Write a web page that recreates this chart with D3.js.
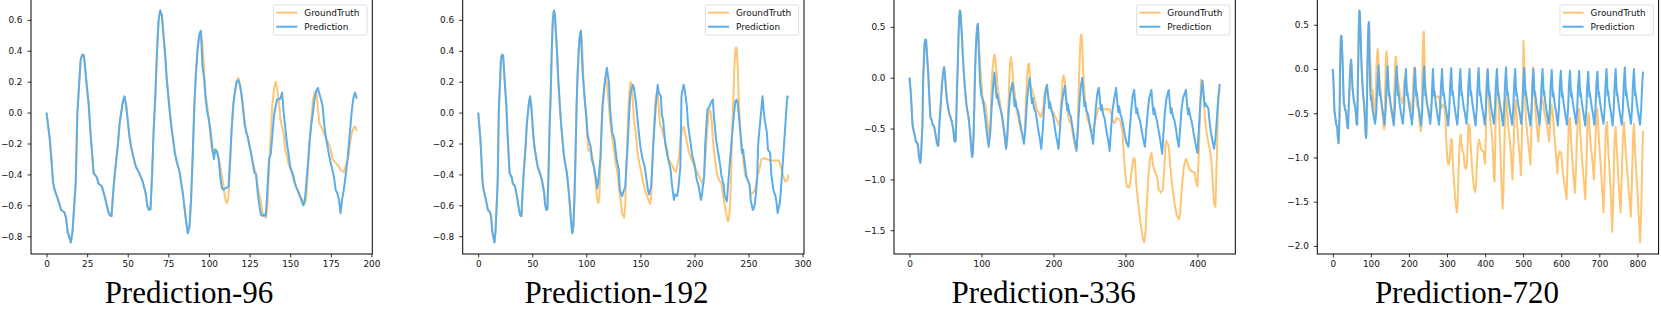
<!DOCTYPE html>
<html>
<head>
<meta charset="utf-8">
<title>Prediction horizons</title>
<script src="https://cdn.jsdelivr.net/npm/d3@7"></script>
<style>
  body { margin: 0; background: #fff; }
  svg { display: block; }
  .tick text { font-family: "DejaVu Sans", sans-serif; font-size: 8.9px; fill: #111; }
  .tick line { stroke: #000; stroke-width: 0.8; }
  .legend text { font-family: "DejaVu Sans", sans-serif; font-size: 8.9px; fill: #111; }
  .title { font-family: "Liberation Serif", "Times New Roman", serif; font-size: 31px; fill: #000; }
</style>
</head>
<body>
<svg width="1661" height="310"></svg>
<script>
// [step, value] pairs
var lookback = [[0,0],[2,-0.17],[3,-0.3],[4,-0.45],[5,-0.5],[7,-0.56],[9,-0.63],[11,-0.645],[12,-0.68],[13,-0.77],[15,-0.84],[16,-0.77],[18,-0.45],[19,0.0],[21,0.34],[22,0.375],[23,0.37],[25,0.15],[26,0.05],[27,-0.12],[29,-0.39],[31,-0.42],[32,-0.46],[34,-0.475],[36,-0.55],[38,-0.64],[39,-0.665],[40,-0.67],[41,-0.52],[42,-0.4],[44,-0.2],[45,-0.07],[47,0.07],[48,0.105],[49,0.05],[51,-0.15],[52,-0.22],[54,-0.31],[55,-0.35],[57,-0.39],[59,-0.44],[61,-0.52],[62,-0.6],[63,-0.63],[64,-0.625],[65,-0.4],[66,-0.1],[67,0.11],[68,0.39],[69,0.6],[70,0.66],[71,0.63],[72,0.5],[73,0.38],[74,0.22],[76,-0.01],[77,-0.1],[79,-0.26],[80,-0.31],[82,-0.39],[84,-0.53],[85,-0.62],[86,-0.71],[87,-0.78],[88,-0.74],[89,-0.56],[90,-0.28],[91,0.05],[92,0.26],[93,0.41],[94,0.5],[95,0.53]];

var groundTruth = [[96,0.45],[97,0.27],[98,0.12],[100,-0.05],[101,-0.17],[102,-0.25],[104,-0.235],[105,-0.26],[107,-0.35],[109,-0.48],[110,-0.56],[111,-0.585],[112,-0.55],[113,-0.35],[114,-0.1],[115,0.06],[117,0.19],[118,0.225],[119,0.19],[121,0.04],[122,-0.06],[124,-0.175],[125,-0.21],[127,-0.32],[129,-0.4],[130,-0.48],[132,-0.58],[133,-0.65],[135,-0.68],[136,-0.6],[137,-0.35],[138,-0.15],[139,0.05],[140,0.15],[141,0.2],[142,0.15],[143,0.085],[144,-0.045],[146,-0.14],[147,-0.24],[149,-0.33],[151,-0.39],[152,-0.435],[154,-0.49],[155,-0.52],[157,-0.555],[159,-0.59],[160,-0.54],[161,-0.35],[162,-0.18],[163,-0.05],[164,0.08],[165,0.13],[166,0.14],[167,0.04],[168,-0.07],[170,-0.11],[171,-0.14],[173,-0.185],[175,-0.24],[176,-0.3],[178,-0.325],[180,-0.35],[181,-0.37],[183,-0.385],[184,-0.35],[186,-0.28],[187,-0.18],[188,-0.13],[189,-0.1],[190,-0.09],[191,-0.12],
  [192,-0.15],[193,-0.19],[195,-0.26],[197,-0.3],[200,-0.35],[203,-0.39],[206,-0.44],[208,-0.465],[209,-0.4],[211,-0.2],[213,0.0],[214,0.02],[215,0.0],[216,-0.05],[217,-0.17],[219,-0.3],[221,-0.4],[223,-0.44],[225,-0.455],[227,-0.56],[229,-0.64],[231,-0.705],[232,-0.68],[233,-0.6],[234,-0.4],[235,-0.1],[236,0.1],[237,0.3],[238,0.42],[239,0.42],[240,0.3],[241,0.1],[242,-0.05],[243,-0.15],[245,-0.3],[247,-0.41],[249,-0.435],[251,-0.47],[252,-0.53],[254,-0.52],[256,-0.5],[258,-0.42],[260,-0.37],[262,-0.3],[265,-0.295],[268,-0.305],[271,-0.31],[275,-0.31],[278,-0.31],[280,-0.35],[282,-0.41],[284,-0.445],[286,-0.435],[287,-0.4],
  [289,-0.4],[293,-0.42],[296,-0.55],[298,-0.8],[300,-0.97],[302,-1.07],[305,-1.08],[307,-1.02],[309,-0.9],[311,-0.79],[313,-0.8],[315,-1.05],[318,-1.25],[321,-1.43],[324,-1.57],[326,-1.62],[328,-1.5],[330,-1.2],[332,-0.95],[334,-0.8],[336,-0.74],[338,-0.85],[341,-0.93],[344,-0.97],[346,-1.1],[349,-1.13],[352,-1.1],[354,-0.88],[356,-0.62],[358,-0.64],[360,-0.67],[362,-0.85],[365,-1.07],[368,-1.23],[371,-1.35],[374,-1.39],[376,-1.33],[378,-1.1],[381,-0.88],[384,-0.8],[386,-0.83],[389,-0.9],[392,-0.92],[396,-0.93],[398,-1.02],[400,-1.07],[402,-0.72],[404,-0.2],[405,-0.02],[407,-0.06],[409,-0.22],[411,-0.45],[414,-0.6],[417,-0.7],[419,-0.8],[421,-1.0],[423,-1.24],[425,-1.27],[427,-0.75],[429,-0.22],[431,-0.11],
  [432,-0.1],[436,-0.45],[440,-0.9],[443,-1.3],[446,-1.58],[448,-1.4],[451,-0.8],[454,-0.3],[457,-0.4],[462,-0.7],[466,-0.85],[470,-1.1],[472,-1.25],[474,-1.0],[477,-0.55],[480,-0.35],[484,-0.6],[488,-0.85],[492,-1.05],[494,-1.2],[496,-0.9],[499,-0.2],[501,0.32],[503,0.0],[507,-0.55],[511,-0.75],[515,-0.9],[519,-1.08],[521,-0.8],[524,-0.2],[526,0.02],[528,-0.2],[532,-0.45],[536,-0.65],[540,-0.82],[543,-0.6],[547,-0.3],[551,-0.35],[556,-0.5],[561,-0.6],[565,-0.7],[568,-0.82],[571,-0.6],[574,-0.4],[577,-0.45],[582,-0.75],[586,-0.95],[590,-1.18],[592,-1.0],[596,-0.93],[600,-0.95],[605,-1.2],[610,-1.35],[614,-1.47],[617,-1.0],[620,-0.6],[623,-0.55],[627,-0.9],[632,-1.2],[636,-1.4],[639,-1.1],[643,-0.6],[647,-0.45],[651,-0.8],[656,-1.1],[660,-1.3],[663,-1.47],[666,-1.1],[669,-0.6],[672,-0.5],[676,-0.8],[681,-1.0],[686,-1.25],[689,-0.9],[692,-0.55],[695,-0.45],[699,-0.8],[704,-1.1],[708,-1.4],[711,-1.62],[714,-1.2],[717,-0.7],[720,-0.6],[724,-0.95],[729,-1.3],[732,-1.6],[734,-1.84],[737,-1.4],[740,-0.8],[743,-0.65],[747,-1.0],[751,-1.3],[754,-1.5],[756,-1.62],[759,-1.2],[762,-0.75],[765,-0.6],[769,-0.9],[774,-1.2],[779,-1.45],[783,-1.67],[786,-1.2],[789,-0.75],[791,-0.62],[795,-1.0],[799,-1.3],[803,-1.6],[807,-1.96],[810,-1.6],[813,-1.0],[815,-0.7]];

var pred96 = [[96,0.3],[97,0.22],[98,0.08],[99,0.0],[100,-0.05],[101,-0.12],[102,-0.22],[103,-0.3],[104,-0.24],[105,-0.25],[106,-0.3],[107,-0.42],[108,-0.49],[109,-0.5],[110,-0.49],[112,-0.48],[113,-0.3],[114,-0.1],[115,0.05],[116,0.14],[117,0.2],[118,0.21],[119,0.18],[120,0.12],[121,0.02],[122,-0.08],[123,-0.13],[124,-0.16],[125,-0.22],[126,-0.27],[127,-0.33],[128,-0.39],[129,-0.4],[130,-0.52],[131,-0.6],[132,-0.66],[133,-0.67],[134,-0.66],[135,-0.67],[136,-0.49],[137,-0.3],[138,-0.27],[139,-0.15],[140,-0.02],[141,0.04],[142,0.085],[143,0.09],[144,0.09],[145,0.13],[146,0.0],[147,-0.1],[148,-0.2],[149,-0.27],[150,-0.35],[151,-0.38],[152,-0.41],[153,-0.46],[154,-0.49],[155,-0.51],[156,-0.54],[157,-0.57],[158,-0.6],[159,-0.57],[160,-0.45],[161,-0.32],[162,-0.18],[163,-0.08],[164,0.0],[165,0.09],[166,0.14],[167,0.16],[168,0.12],[169,0.085],[170,0.04],[171,-0.08],[172,-0.16],[173,-0.22],[174,-0.28],[175,-0.33],[176,-0.37],[177,-0.42],[178,-0.5],[179,-0.52],[180,-0.56],[181,-0.65],[182,-0.56],[183,-0.5],[184,-0.42],[185,-0.33],[186,-0.22],[187,-0.1],[188,0.02],[189,0.1],[190,0.13],[191,0.09]];

var pred192 = [[96,0.35],[97,0.22],[99,0.05],[100,-0.02],[101,-0.13],[102,-0.17],[104,-0.22],[105,-0.3],[107,-0.35],[109,-0.43],[110,-0.49],[111,-0.45],[113,-0.3],[115,0.04],[117,0.19],[119,0.29],[121,0.19],[122,0.02],[124,-0.13],[126,-0.175],[128,-0.3],[130,-0.37],[131,-0.5],[133,-0.54],[134,-0.52],[136,-0.48],[138,-0.24],[140,0.04],[141,0.13],[143,0.18],[144,0.16],[146,0.06],[148,-0.09],[150,-0.22],[152,-0.3],[154,-0.35],[157,-0.5],[158,-0.53],[160,-0.48],[162,-0.2],[164,0.02],[166,0.18],[167,0.13],[169,0.105],[170,-0.02],[171,-0.045],[173,-0.2],[175,-0.28],[178,-0.37],[179,-0.455],[181,-0.565],[182,-0.53],[184,-0.54],[185,-0.5],[187,-0.35],[188,0.105],[190,0.18],[191,0.15],[193,0.04],[194,-0.07],[196,-0.175],[198,-0.28],[200,-0.33],[202,-0.43],[204,-0.48],[206,-0.565],[207,-0.53],[209,-0.41],[210,-0.2],[212,0.02],[214,0.04],[215,0.06],[217,0.085],[218,-0.02],[220,-0.175],[222,-0.26],[224,-0.35],[225,-0.41],[227,-0.465],[228,-0.54],[230,-0.575],[231,-0.48],[233,-0.3],[235,-0.13],[237,0.02],[238,0.075],[239,0.085],[240,0.06],[242,-0.09],[244,-0.26],[245,-0.24],[246,-0.3],[248,-0.41],[249,-0.43],[251,-0.465],[252,-0.565],[254,-0.63],[255,-0.62],[256,-0.585],[258,-0.43],[259,-0.2],[261,-0.045],[263,0.105],[264,0.02],[265,-0.045],[267,-0.13],[268,-0.24],[270,-0.26],[271,-0.39],[273,-0.5],[275,-0.54],[276,-0.585],[277,-0.65],[279,-0.585],[280,-0.5],[282,-0.3],[284,-0.09],[285,0.02],[286,0.105],[287,0.095]];

var pred336 = [[96,0.3],[98,-0.05],[100,-0.18],[102,-0.22],[104,-0.33],[106,-0.45],[108,-0.58],[110,-0.68],[112,-0.55],[114,-0.3],[116,-0.1],[118,0.05],
  [120,-0.12],[121,-0.2],[122,-0.16],[124,-0.25],[126,-0.3],[128,-0.36],[130,-0.45],[132,-0.55],[134,-0.7],[136,-0.55],[138,-0.3],[140,-0.15],[143,-0.05],
  [145,-0.2],[146,-0.28],[147,-0.22],[149,-0.3],[151,-0.33],[153,-0.42],[155,-0.5],[157,-0.58],[159,-0.65],[161,-0.5],[163,-0.25],[165,-0.1],[167,0.0],
  [169,-0.18],[170,-0.25],[171,-0.2],[173,-0.3],[175,-0.33],[177,-0.42],[179,-0.52],[181,-0.6],[183,-0.7],[185,-0.52],[187,-0.3],[189,-0.15],[191,-0.07],
  [193,-0.22],[194,-0.3],[195,-0.24],[197,-0.32],[199,-0.36],[201,-0.45],[203,-0.55],[205,-0.62],[207,-0.7],[209,-0.5],[211,-0.3],[213,-0.18],[216,-0.08],
  [218,-0.25],[219,-0.32],[220,-0.26],[222,-0.35],[224,-0.38],[226,-0.47],[228,-0.56],[230,-0.64],[232,-0.72],[234,-0.5],[236,-0.25],[238,-0.08],[240,0.0],
  [242,-0.2],[243,-0.28],[244,-0.24],[246,-0.33],[248,-0.36],[250,-0.45],[252,-0.52],[254,-0.6],[255,-0.65],[257,-0.45],[259,-0.28],[261,-0.15],[263,-0.1],
  [265,-0.25],[266,-0.32],[267,-0.27],[269,-0.36],[271,-0.4],[273,-0.5],[275,-0.58],[277,-0.66],[278,-0.72],[280,-0.5],[282,-0.32],[285,-0.18],[287,-0.1],
  [289,-0.27],[290,-0.34],[291,-0.28],[293,-0.36],[295,-0.4],[297,-0.48],[299,-0.56],[301,-0.63],[304,-0.68],[306,-0.5],[308,-0.32],[310,-0.18],[312,-0.12],
  [314,-0.28],[315,-0.35],[316,-0.3],[318,-0.38],[320,-0.42],[322,-0.5],[324,-0.58],[326,-0.65],[327,-0.68],[329,-0.5],[331,-0.33],[333,-0.2],[336,-0.12],
  [338,-0.3],[339,-0.36],[340,-0.3],[342,-0.38],[344,-0.43],[346,-0.52],[348,-0.6],[350,-0.7],[351,-0.75],[353,-0.52],[355,-0.32],[357,-0.2],[360,-0.12],
  [362,-0.28],[363,-0.35],[364,-0.3],[366,-0.38],[368,-0.42],[370,-0.5],[372,-0.6],[374,-0.68],[376,-0.5],[378,-0.3],[380,-0.2],[384,-0.12],
  [386,-0.3],[387,-0.36],[388,-0.3],[390,-0.38],[392,-0.43],[394,-0.52],[396,-0.6],[398,-0.68],[400,-0.74],[402,-0.5],[404,-0.25],[406,-0.08],[407,-0.03],
  [409,-0.2],[410,-0.28],[411,-0.25],[413,-0.28],[415,-0.3],[417,-0.45],[419,-0.55],[421,-0.63],[423,-0.7],[425,-0.6],[427,-0.4],[429,-0.18],[431,-0.06]];

var pred720 = [[96,0.2],[98,-0.2],[100,-0.35],[101,-0.3],[104,-0.45],[108,-0.55],[111,-0.62],[114,-0.5],[117,-0.2],
  [120,0.04],[123,-0.3],[124,-0.25],[128,-0.4],[132,-0.5],[136,-0.63],[139,-0.45],[141,-0.2],
  [144,0.03],[147,-0.3],[148,-0.26],[152,-0.4],[156,-0.5],[160,-0.64],[163,-0.45],[165,-0.2],
  [168,0.03],[171,-0.3],[172,-0.25],[176,-0.41],[180,-0.52],[184,-0.62],[187,-0.45],[189,-0.2],
  [192,0.0],[195,-0.3],[196,-0.26],[200,-0.4],[204,-0.5],[208,-0.63],[211,-0.45],[213,-0.2],
  [216,0.01],[219,-0.3],[220,-0.25],[224,-0.4],[228,-0.52],[232,-0.64],[235,-0.45],[237,-0.2],
  [240,0.03],[243,-0.3],[244,-0.26],[248,-0.4],[252,-0.5],[256,-0.62],[259,-0.45],[261,-0.2],
  [263,0.0],[266,-0.3],[267,-0.25],[271,-0.41],[275,-0.52],[279,-0.63],[282,-0.45],[284,-0.2],
  [287,0.0],[290,-0.3],[291,-0.26],[295,-0.4],[299,-0.5],[303,-0.64],[306,-0.45],[308,-0.2],
  [311,0.01],[314,-0.3],[315,-0.25],[319,-0.4],[323,-0.52],[327,-0.63],[330,-0.45],[332,-0.2],
  [335,0.0],[338,-0.3],[339,-0.26],[343,-0.41],[347,-0.5],[351,-0.62],[354,-0.45],[356,-0.2],
  [359,0.0],[362,-0.3],[363,-0.25],[367,-0.4],[371,-0.52],[375,-0.64],[378,-0.45],[380,-0.2],
  [383,0.01],[386,-0.3],[387,-0.26],[391,-0.4],[395,-0.5],[399,-0.63],[402,-0.45],[404,-0.2],
  [407,0.0],[410,-0.3],[411,-0.25],[415,-0.41],[419,-0.52],[423,-0.62],[426,-0.45],[428,-0.2],
  [431,0.0],[434,-0.3],[435,-0.26],[439,-0.4],[443,-0.5],[447,-0.64],[450,-0.45],[452,-0.2],
  [455,0.02],[458,-0.3],[459,-0.25],[463,-0.4],[467,-0.52],[471,-0.63],[474,-0.45],[476,-0.2],
  [479,0.0],[482,-0.3],[483,-0.26],[487,-0.41],[491,-0.5],[495,-0.62],[498,-0.45],[500,-0.2],
  [503,0.01],[506,-0.3],[507,-0.25],[511,-0.4],[515,-0.52],[519,-0.64],[522,-0.45],[524,-0.2],
  [527,0.0],[530,-0.3],[531,-0.26],[535,-0.4],[539,-0.5],[543,-0.63],[546,-0.45],[548,-0.2],
  [551,0.0],[554,-0.3],[555,-0.25],[559,-0.41],[563,-0.52],[567,-0.62],[570,-0.45],[572,-0.2],
  [575,-0.01],[578,-0.31],[579,-0.26],[583,-0.4],[587,-0.5],[591,-0.64],[594,-0.45],[596,-0.2],
  [599,-0.02],[602,-0.31],[603,-0.26],[607,-0.41],[611,-0.52],[615,-0.63],[618,-0.45],[620,-0.21],
  [623,-0.02],[626,-0.31],[627,-0.26],[631,-0.4],[635,-0.5],[639,-0.62],[642,-0.45],[644,-0.21],
  [647,-0.02],[650,-0.31],[651,-0.26],[655,-0.41],[659,-0.52],[663,-0.64],[666,-0.45],[668,-0.21],
  [671,-0.03],[674,-0.31],[675,-0.26],[679,-0.4],[683,-0.5],[687,-0.63],[690,-0.45],[692,-0.2],
  [695,-0.03],[698,-0.31],[699,-0.26],[703,-0.41],[707,-0.52],[711,-0.62],[714,-0.45],[716,-0.2],
  [719,0.0],[722,-0.3],[723,-0.25],[727,-0.4],[731,-0.5],[735,-0.64],[738,-0.45],[740,-0.2],
  [743,0.0],[746,-0.3],[747,-0.26],[751,-0.41],[755,-0.52],[759,-0.63],[762,-0.45],[764,-0.2],
  [767,0.02],[770,-0.3],[771,-0.25],[775,-0.4],[779,-0.5],[783,-0.62],[786,-0.45],[788,-0.2],
  [791,0.0],[794,-0.3],[795,-0.26],[799,-0.41],[803,-0.52],[807,-0.63],[810,-0.45],[813,-0.15],[815,-0.03]];

var horizons = [96, 192, 336, 720];
var titles = ["Prediction-96", "Prediction-192", "Prediction-336", "Prediction-720"];
var seriesNames = ["GroundTruth", "Prediction"];
var xTicks96 = [0, 25, 50, 75, 100, 125, 150, 175, 200];
var xTicks192 = [0, 50, 100, 150, 200, 250, 300];
var xTicks336 = [0, 100, 200, 300, 400];
var xTicks720 = [0, 100, 200, 300, 400, 500, 600, 700, 800];
var yTicksSmall = [-0.8, -0.6, -0.4, -0.2, 0.0, 0.2, 0.4, 0.6];
var yTicks336 = [-1.5, -1.0, -0.5, 0.0, 0.5];
var yTicks720 = [-2.0, -1.5, -1.0, -0.5, 0.0, 0.5];

var gtColor = "#fdc574";
var predColor = "#5caeea";

// layout per panel
var panels = [
  {pred: pred96,  xTicks: xTicks96,  yTicks: yTicksSmall, left: 31,     titleX: 189},
  {pred: pred192, xTicks: xTicks192, yTicks: yTicksSmall, left: 462.7,  titleX: 616.5},
  {pred: pred336, xTicks: xTicks336, yTicks: yTicks336,   left: 894,    titleX: 1043.7},
  {pred: pred720, xTicks: xTicks720, yTicks: yTicks720,   left: 1317.3, titleX: 1467}
];

var axW = 341.3, axTop = -1, axBottom = 254;

var svg = d3.select("svg");
svg.append("rect").attr("width", 1661).attr("height", 310).attr("fill", "#fff");

panels.forEach(function(p, i) {
  var last = 95 + horizons[i];
  var truth = lookback.concat(groundTruth.filter(function(d) { return d[0] <= last; }));
  var predicted = lookback.concat(p.pred);
  var ext = d3.extent(truth.concat(predicted), function(d) { return d[1]; });
  var padY = (ext[1] - ext[0]) * 0.05;

  var x = d3.scaleLinear().domain([-0.05 * last, 1.05 * last]).range([p.left, p.left + axW]);
  var y = d3.scaleLinear().domain([ext[0] - padY, ext[1] + padY]).range([axBottom, axTop]);

  var g = svg.append("g");

  var line = d3.line()
    .x(function(d) { return x(d[0]); })
    .y(function(d) { return y(d[1]); });

  g.append("path").datum(truth)
    .attr("d", line)
    .attr("fill", "none")
    .attr("stroke", gtColor)
    .attr("stroke-width", 2)
    .attr("stroke-linejoin", "round");

  g.append("path").datum(predicted)
    .attr("d", line)
    .attr("fill", "none")
    .attr("stroke", predColor)
    .attr("stroke-width", 2)
    .attr("stroke-linejoin", "round");

  // axes
  var xAxis = g.append("g")
    .attr("transform", "translate(0," + axBottom + ")")
    .call(d3.axisBottom(x).tickValues(p.xTicks).tickSize(3.5).tickPadding(3.5).tickFormat(d3.format("d")));
  xAxis.select(".domain").remove();

  var yAxis = g.append("g")
    .attr("transform", "translate(" + p.left + ",0)")
    .call(d3.axisLeft(y).tickValues(p.yTicks).tickSize(3.5).tickPadding(5).tickFormat(d3.format(".1f")));
  yAxis.select(".domain").remove();

  // frame
  g.append("rect")
    .attr("x", p.left).attr("y", axTop)
    .attr("width", axW).attr("height", axBottom - axTop)
    .attr("fill", "none")
    .attr("stroke", "#000")
    .attr("stroke-width", 1);

  // legend
  var lg = g.append("g").attr("class", "legend")
    .attr("transform", "translate(" + (p.left + axW - 5.3 - 93.4) + ",5)");
  lg.append("rect")
    .attr("width", 93.4).attr("height", 30)
    .attr("rx", 2)
    .attr("fill", "#fff").attr("fill-opacity", 0.8)
    .attr("stroke", "#d6d6d6").attr("stroke-width", 0.8);
  var items = lg.selectAll(".item")
    .data(seriesNames)
    .enter().append("g")
    .attr("class", "item")
    .attr("transform", function(d, k) { return "translate(0," + (7.7 + k * 14) + ")"; });
  items.append("line")
    .attr("x1", 2.7).attr("x2", 23.7)
    .attr("stroke", function(d, k) { return k === 0 ? gtColor : predColor; })
    .attr("stroke-width", 2);
  items.append("text")
    .attr("x", 30.7).attr("dy", "0.35em")
    .text(function(d) { return d; });

  // title
  svg.append("text")
    .attr("class", "title")
    .attr("x", p.titleX).attr("y", 303)
    .attr("text-anchor", "middle")
    .text(titles[i]);
});
</script>
</body>
</html>
